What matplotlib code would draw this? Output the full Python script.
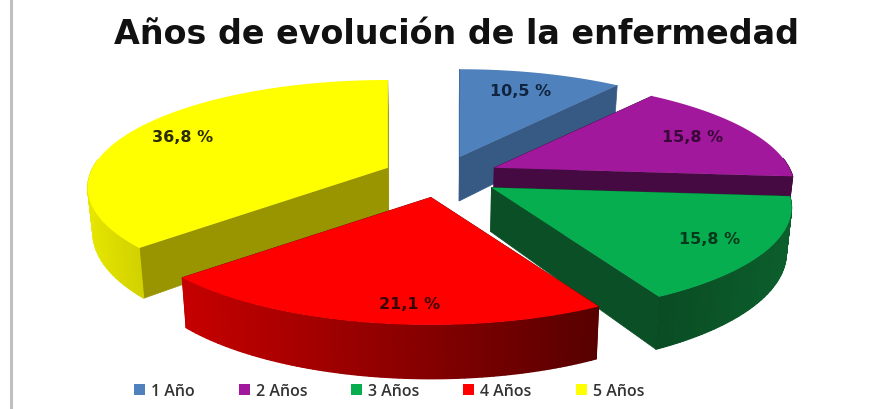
import numpy as np
import matplotlib
matplotlib.use('Agg')
import matplotlib.pyplot as plt
from matplotlib.patches import Patch
from matplotlib.colors import LinearSegmentedColormap

# Exploded 3D pie, drawn back to front on an axes that runs in image pixels.

labels = ['1 Año', '2 Años', '3 Años', '4 Años', '5 Años']
values = [10.5, 15.8, 15.8, 21.1, 36.8]
title = 'Años de evolución de la enfermedad'

top_colors = ['#4f81bd', '#a2189c', '#07ae50', '#ff0000', '#ffff00']
side_colors = ['#375a85', '#460a43', '#0a4f25', '#8a0000', '#989500']
rim_left = ['#375a85', '#460a43', '#0a4c24', '#c60000', '#e6e600']
rim_right = ['#375a85', '#460a43', '#0c5f2c', '#580000', '#d2d200']
text_colors = ['#10233f', '#3a0838', '#05391b', '#3d0000', '#2b2b00']
label_pos = [(521, 92), (693, 138), (710, 240), (410, 305), (183, 138)]

draw_order = [0, 1, 2, 4, 3]

CX, CY = 441, 177
RX, RY = 295, 104
PERSP = 0.185
EXPLODE = 0.2
DEPTH = 44
BOTTOM_SCALE = 0.985


def project(x, y):
	w = 1 + PERSP * y
	return RX * x / w, RY * y / w, w


def lower(px, py, w):
	return CX + (px - CX) * BOTTOM_SCALE, py + DEPTH / w


def slice_outline(start, end):
	mid = np.radians((start + end) / 2)
	ox, oy, _ = project(EXPLODE * np.sin(mid), EXPLODE * np.cos(mid))
	ax0, ay0 = CX + ox, CY - oy
	theta = np.radians(np.linspace(start, end, 80))
	dx, dy, w = project(np.sin(theta), np.cos(theta))
	return (ax0, ay0), ax0 + dx, ay0 - dy, w, theta


def draw_slice(ax, i, start, end):
	z = 2 + draw_order.index(i)
	(ax0, ay0), xs, ys, w, theta = slice_outline(start, end)
	bx0, by0 = lower(ax0, ay0, 1)
	bxs, bys = lower(xs, ys, w)

	# straight walls first, the top face hides the ones facing away
	for k in (0, -1):
		ax.fill([ax0, xs[k], bxs[k], bx0], [ay0, ys[k], bys[k], by0],
			color=side_colors[i], lw=0.5, zorder=z)

	# outer rim, shaded along the arc, only the part that faces the viewer
	front = np.cos(theta) < 0.1
	if front.sum() > 1:
		cmap = LinearSegmentedColormap.from_list('rim', [rim_left[i], rim_right[i]])
		X = np.vstack([xs[front], bxs[front]])
		Y = np.vstack([ys[front], bys[front]])
		C = np.vstack([xs[front], xs[front]])
		ax.pcolormesh(X, Y, C, shading='gouraud', cmap=cmap, zorder=z)

	ax.fill(np.r_[ax0, xs], np.r_[ay0, ys], color=top_colors[i], lw=0, zorder=z + 0.5)


def main():
	fig = plt.figure(figsize=(8.96, 4.10), dpi=100)
	ax = fig.add_axes([0, 0, 1, 1])
	ax.axis('off')

	ax.axvline(11, color='#c0c0c0', lw=2.2)

	edges = np.r_[0, np.cumsum(values)] / sum(values) * 360
	for i in draw_order:
		draw_slice(ax, i, edges[i], edges[i + 1])

	ax.set_xlim(0, 896)
	ax.set_ylim(410, 0)

	for i, v in enumerate(values):
		txt = f'{v:.1f}'.replace('.', ',') + ' %'
		ax.text(label_pos[i][0], label_pos[i][1], txt, color=text_colors[i], fontsize=11.5,
			fontweight='bold', family='DejaVu Sans', ha='center', va='center', zorder=20)

	ax.text(457, 34, title, fontsize=24, fontweight='bold', family='DejaVu Sans',
		color='#111111', ha='center', va='center')

	handles = [Patch(facecolor=c, edgecolor='none') for c in top_colors]
	ax.legend(handles, labels, ncol=5, loc='center', bbox_to_anchor=(389, 392),
		bbox_transform=ax.transData, frameon=False,
		prop={'family': 'Open Sans', 'size': 11.5, 'weight': 'semibold'}, labelcolor='#333333',
		handlelength=0.69, handleheight=0.69, handletextpad=0.38, columnspacing=2.75,
		borderpad=0, borderaxespad=0)

	plt.savefig('out.png', dpi=100)


if __name__ == "__main__":
	main()
